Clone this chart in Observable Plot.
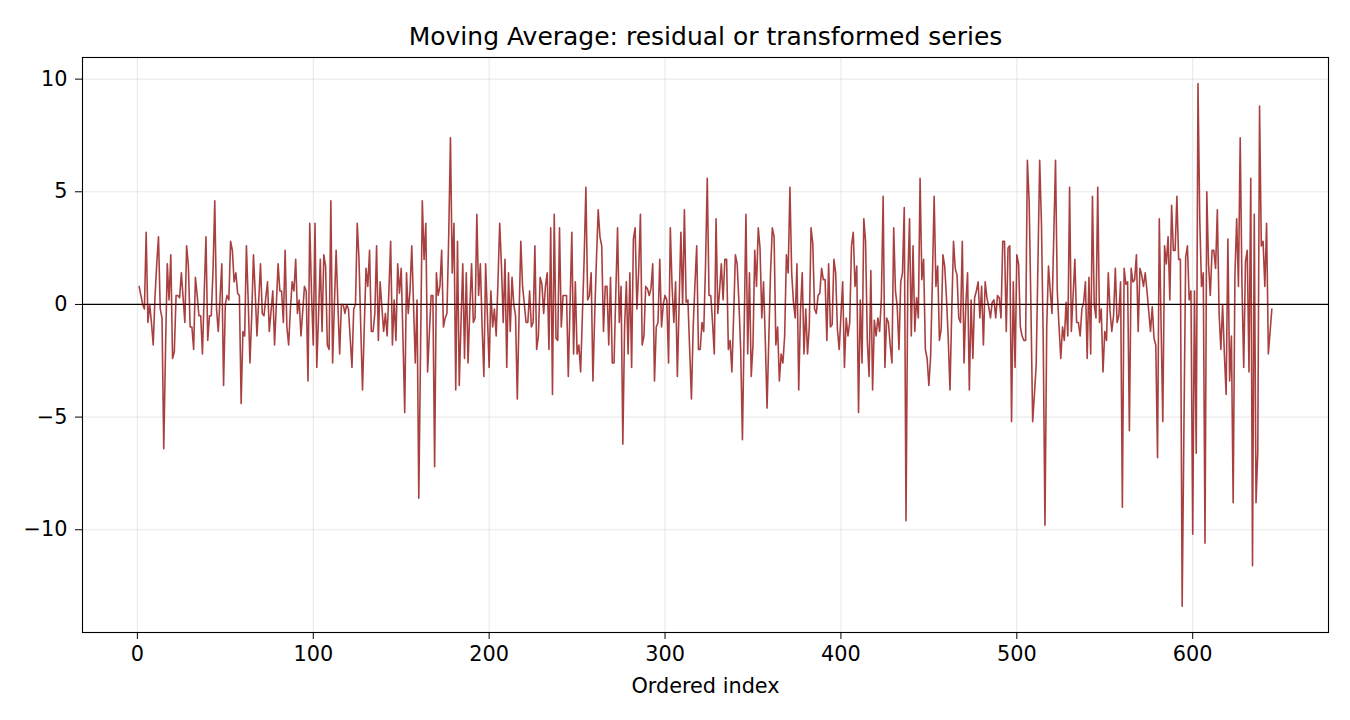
<!DOCTYPE html>
<html>
<head>
<meta charset="utf-8">
<script src="https://cdn.jsdelivr.net/npm/d3@7"></script>
<script src="https://cdn.jsdelivr.net/npm/@observablehq/plot@0.6"></script>
<style>
  html, body { margin: 0; padding: 0; background: #fff; }
  #chart { width: 1350px; height: 720px; }
</style>
</head>
<body>
<div id="chart"></div>
<script>
const titleText = "Moving Average: residual or transformed series";
const xLabel = "Ordered index";
const xTicks = [0, 100, 200, 300, 400, 500, 600];
const yTicks = [-10, -5, 0, 5, 10];
const firstIndex = 1;

// residual values, index 1..645
const part1 = [ // 1-60
  0.8, 0.4, 0.0, -0.2, 3.2, -0.8, 0.0, -0.8, -1.8, 0.3,
  1.8, 3.0, -0.2, -0.6, -6.4, -2.0, 1.8, 0.2, 2.2, -2.4,
  -2.1, 0.4, 0.4, 0.3, 1.4, 0.3, -0.8, 2.6, 1.7, -1.0,
  -1.0, -2.0, 1.2, 0.4, -0.5, -0.5, -2.2, 0.5, 3.0, -1.6,
  -0.5, -0.5, 1.5, 4.6, -0.2, -1.2, 0.3, 1.8, -3.6, 0.0,
  0.4, 0.2, 2.8, 2.4, 1.0, 1.4, 0.5, 0.4, -4.4, -1.2
];
const part2 = [ // 61-126
  -1.4, 2.6, 0.2, -2.6, -0.5, 2.2, 0.5, -1.4, 0.2, 1.8,
  -0.4, -0.5, 0.3, 1.0, -1.2, -0.3, 0.6, -1.8, 0.0, 1.8,
  0.6, 0.6, -0.8, 2.4, -1.0, -1.8, -0.2, 1.0, 0.6, 2.0,
  -0.4, 0.2, -1.4, -0.3, 0.8, 0.6, -3.4, 3.6, 0.5, -1.8,
  3.6, -2.8, -0.5, 2.0, -1.2, 2.2, 1.7, -1.8, -2.0, 4.6,
  -2.6, 0.0, 2.4, 0.0, -2.2, 0.0, 0.0, -0.4, 0.0, -0.2,
  -1.5, -2.8, -0.2, 0.0, 3.6, 2.0
];
const part3 = [ // 127-191
  -1.0, -3.8, -1.0, 1.6, 0.8, 2.4, -1.2, -1.2, -0.4, 2.6,
  -1.6, 1.0, -0.1, -1.2, -0.4, -1.4, 0.6, 2.8, -1.8, 0.2,
  -1.6, 1.8, 0.5, 1.6, -1.5, -4.8, 1.4, -0.4, 0.6, 2.6,
  0.0, -2.6, 0.2, -8.6, -2.0, 4.6, 2.0, 3.6, -3.0, -1.3,
  0.4, 0.4, -7.2, 1.4, 0.4, 0.8, 2.4, -1.0, -0.6, -0.4,
  3.0, 7.4, 1.4, 3.6, -3.8, 2.8, -3.6, -0.8, 1.8, -2.4,
  1.4, -2.6, -0.2, 1.8, -0.8
];
const part4 = [ // 192-256
  -0.6, 4.0, 0.4, 1.8, -1.0, -3.2, 1.8, -0.5, -2.8, 0.6,
  -1.0, -0.2, -1.4, 1.0, 3.6, 1.7, -0.8, 2.0, -2.8, 1.4,
  -1.2, 1.2, 0.0, -0.5, -4.2, -0.5, 2.8, 0.8, 0.0, -0.8,
  -0.8, 0.6, -1.0, -0.8, 2.6, -2.0, -1.4, 1.2, 0.9, -0.4,
  0.8, 1.4, -2.0, 3.4, -4.0, 4.0, -1.5, -1.6, 3.4, -1.0,
  0.4, 0.4, 0.4, -3.2, 0.0, 3.2, -2.2, 1.0, -2.2, -1.8,
  -3.0, -0.5, 2.0, 5.2, 0.2
];
const part5 = [ // 257-322
  0.4, 1.4, -3.4, -0.5, 2.0, 4.2, 3.0, 2.6, -1.2, 0.8,
  0.8, -1.8, 1.2, -2.6, -2.6, 0.5, 3.4, -0.8, 0.8, -6.2,
  -1.0, 1.0, -2.2, 1.4, -2.8, 2.9, 3.4, -0.2, 1.5, 4.0,
  -1.8, -1.4, 0.8, 0.7, 0.4, 0.7, 1.8, -3.4, -1.0, -0.8,
  2.0, -1.0, 0.0, 0.4, 0.2, -2.6, 3.4, 0.8, -0.8, 1.0,
  -3.2, 0.0, 3.2, 0.0, 4.2, 0.1, 0.2, -2.0, -4.2, -1.0,
  0.9, 2.6, -2.0, -2.0, -0.8, -1.2
];
const part6 = [ // 323-387
  1.7, 5.6, 0.4, 0.4, -0.8, -2.2, 3.8, -0.4, 0.6, 1.8,
  0.2, 2.0, 2.0, -2.0, -1.6, -3.0, -0.5, 2.2, 1.8, 0.1,
  -2.0, -6.0, -1.0, 4.0, -2.2, 1.4, -3.2, -1.8, 2.4, 0.8,
  3.4, 2.5, -0.6, 1.0, -1.6, -4.6, -1.5, 1.5, 3.4, 3.0,
  -1.8, -1.0, -3.4, -2.2, -2.6, -1.4, 2.2, 1.4, 5.2, 1.4,
  0.1, -0.6, 1.8, -3.8, -0.3, 1.4, -2.2, -0.2, -2.2, -1.0,
  3.4, 2.7, -0.2, -0.4, 0.4
];
const part7 = [ // 388-453
  0.5, 1.6, 1.1, 1.1, -1.6, 1.8, -1.0, -0.9, 2.0, 1.4,
  -1.1, -2.0, -0.5, 1.0, -2.8, -0.6, -1.4, -0.8, 2.6, 3.2,
  0.8, 1.7, -4.8, 0.2, -2.6, 3.8, 2.8, -1.6, -3.2, 1.5,
  -3.8, -0.7, -1.4, -0.6, -1.2, 0.3, 4.8, -2.8, -0.6, -0.8,
  -1.8, -2.6, 3.4, 0.6, -0.1, -2.0, 1.0, 1.4, 4.3, -9.6,
  1.0, 3.8, -1.4, 2.6, -1.2, 0.3, -0.6, 5.6, 1.1, 2.0,
  -2.0, -2.4, -3.6, -2.3, 1.1, 4.8
];
const part8 = [ // 454-518
  0.8, 1.7, -1.6, -1.1, 2.2, 1.7, 0.3, -1.5, -3.8, -0.3,
  2.8, 1.6, 1.3, -0.6, -0.8, 2.8, -2.6, 0.0, 1.4, -3.8,
  0.2, -2.4, 0.3, 0.6, 1.0, -0.6, 0.8, -1.8, 1.0, 0.3,
  -0.1, -0.6, 0.1, 0.2, -0.6, 0.4, 0.3, -0.6, 2.8, 2.8,
  -1.2, 2.5, 2.6, -5.2, 1.0, -2.8, 2.2, 1.8, -1.0, -1.4,
  -1.6, -1.6, 6.4, 4.6, 0.0, -5.2, -4.0, -2.7, 1.8, 6.4,
  3.6, -1.5, -9.8, -1.0, 1.7
];
const part9 = [ // 519-583
  0.6, -0.4, 3.0, 6.4, 0.6, -1.0, -2.4, -1.0, -1.6, 0.1,
  -1.4, 5.2, -1.2, 0.4, 2.0, -0.8, -0.8, -1.4, -0.2, 0.1,
  1.0, -2.4, 1.2, -2.2, 4.8, 0.0, -0.6, 5.2, -0.8, -0.2,
  -3.0, -1.2, -1.6, 1.4, -0.3, -1.2, -0.5, 1.6, -0.8, -0.5,
  1.0, -9.0, 1.6, 0.9, 1.0, -5.6, 1.6, 1.0, 1.1, 2.2,
  -1.2, 1.6, 1.3, 0.8, 1.4, 0.6, -0.3, -1.2, -0.1, -1.5,
  -1.8, -6.8, 3.8, -0.8, -5.2
];
const part10 = [ // 584-645
  2.6, 1.8, 3.0, 0.2, 4.4, 2.4, 2.4, 4.8, 2.0, 2.0,
  -13.4, -5.5, 2.1, 2.6, 0.2, 0.6, -10.2, 0.6, -6.6, 9.8,
  3.8, 0.8, 1.4, -10.6, 5.0, 1.8, 0.4, 2.4, 2.4, 1.6,
  4.2, -0.4, -2.0, 0.0, -2.2, -4.0, 2.9, -3.4, -1.4, -8.8,
  1.3, 3.8, 0.8, 7.4, 0.9, -2.8, 1.9, 2.4, -3.0, 5.6,
  -11.6, 4.0, -8.8, -6.5, 8.8, 2.6, 2.8, 0.8, 3.6, -2.2,
  -1.2, -0.2
];

const residual = [].concat(part1, part2, part3, part4, part5, part6, part7, part8, part9, part10);
const data = residual.map((v, i) => ({index: i + firstIndex, value: v}));

const [xMin, xMax] = d3.extent(data, d => d.index);
const [yMin, yMax] = d3.extent(data, d => d.value);
const padX = (xMax - xMin) * 0.05;
const padY = (yMax - yMin) * 0.05;

const font = "DejaVu Sans, Liberation Sans, sans-serif";

const chart = Plot.plot({
  width: 1350,
  height: 720,
  marginLeft: 82,
  marginRight: 22,
  marginTop: 57,
  marginBottom: 88,
  style: {fontFamily: font, fontSize: "20.8px", background: "#fff", color: "#000", overflow: "visible"},
  x: {domain: [xMin - padX, xMax + padX], label: null},
  y: {domain: [yMin - padY, yMax + padY], label: null},
  marks: [
    Plot.gridX(xTicks, {stroke: "#b0b0b0", strokeOpacity: 0.3, strokeWidth: 1}),
    Plot.gridY(yTicks, {stroke: "#b0b0b0", strokeOpacity: 0.3, strokeWidth: 1}),
    Plot.ruleY([0], {stroke: "#000", strokeWidth: 1.3}),
    Plot.line(data, {x: "index", y: "value", stroke: "#8b0000", strokeOpacity: 0.75, strokeWidth: 1.6}),
    Plot.frame({stroke: "#000", strokeWidth: 1.1}),
    Plot.axisX(xTicks, {tickSize: 7, tickPadding: 7, fontSize: 20.8, label: null, stroke: "#000", fill: "#000"}),
    Plot.axisY(yTicks, {tickSize: 7, tickPadding: 8, fontSize: 20.8, label: null, stroke: "#000", fill: "#000"}),
    Plot.text([xLabel], {frameAnchor: "bottom", lineAnchor: "middle", dy: 54, fontSize: 20.8, fill: "#000"}),
    Plot.text([titleText], {frameAnchor: "top", lineAnchor: "middle", dy: -21, fontSize: 25, fill: "#000"})
  ]
});

document.getElementById("chart").appendChild(chart);
</script>
</body>
</html>
